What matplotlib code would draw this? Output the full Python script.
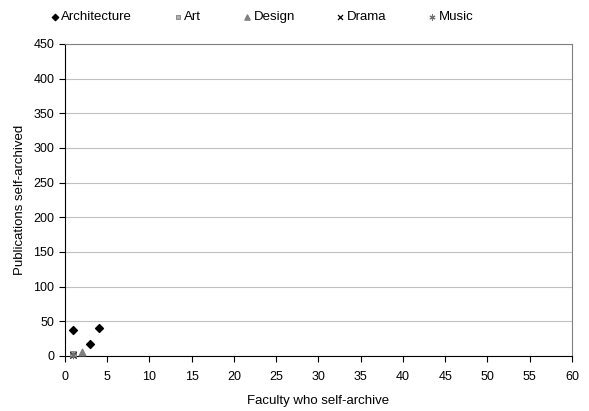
import matplotlib
matplotlib.use('Agg')
import matplotlib.pyplot as plt

plt.rcParams['font.family'] = ['Liberation Sans', 'DejaVu Sans']
plt.rcParams['font.size'] = 9

# данные по факультетам
arch_x = [1, 3, 4]
arch_y = [38, 17, 40]
art_x = [1]
art_y = [3]
design_x = [2]
design_y = [5]
drama_x = [1]
drama_y = [1]
music_x = [1]
music_y = [2]

fig = plt.figure(figsize=(5.89, 4.11), dpi=100)
ax = fig.add_axes([0.110, 0.134, 0.861, 0.759])

ax.scatter(arch_x, arch_y, marker='D', s=16, color='black', label='Architecture', zorder=3, clip_on=False)
ax.scatter(art_x, art_y, marker='s', s=18, color='#b0b0b0', edgecolor='#808080', linewidth=0.6, label='Art', zorder=3, clip_on=False)
ax.scatter(design_x, design_y, marker='^', s=22, color='#808080', label='Design', zorder=3, clip_on=False)
ax.scatter(drama_x, drama_y, marker='x', s=20, color='black', linewidth=0.9, label='Drama', zorder=4, clip_on=False)
ax.scatter(music_x, music_y, marker=(6, 2, 0), s=22, color='#707070', linewidth=0.8, label='Music', zorder=4, clip_on=False)

ax.set_xlim(0, 60)
ax.set_ylim(0, 450)
ax.set_xticks(range(0, 61, 5))
ax.set_yticks(range(0, 451, 50))
ax.yaxis.grid(True, color='#c0c0c0', linewidth=0.8)
ax.set_axisbelow(True)
for s in ax.spines.values():
    s.set_color('black')
    s.set_linewidth(0.8)
ax.spines['right'].set_color('#808080')
ax.spines['top'].set_color('#808080')
ax.tick_params(direction='out', length=4, width=0.8, color='black')
ax.tick_params(axis='x', pad=6.5)

ax.set_xlabel('Faculty who self-archive', fontsize=9.5, labelpad=9)
ax.set_ylabel('Publications self-archived', fontsize=9.5, labelpad=5)

fig.legend(loc='upper center', bbox_to_anchor=(0.444, 1.002), ncol=5, frameon=False,
           handlelength=0.8, handletextpad=0.1, columnspacing=3.05, markerscale=0.8, fontsize=9.5)

fig.savefig('out.png', dpi=100)
